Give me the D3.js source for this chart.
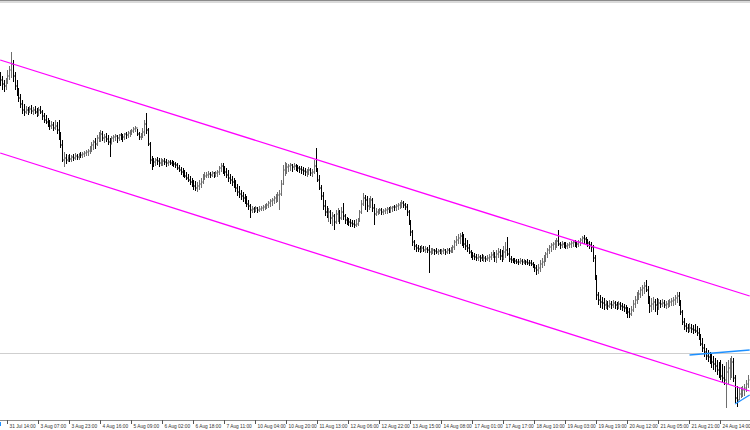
<!DOCTYPE html>
<html>
<head>
<meta charset="utf-8">
<script src="https://cdn.jsdelivr.net/npm/d3@7"></script>
<style>
body { margin: 0; background: #fff; }
svg { display: block; }
</style>
</head>
<body>
<script>
// hourly bars, 31 Jul - 24 Aug
var timeLabels = ["31 Jul 14:00", "3 Aug 07:00", "3 Aug 23:00", "4 Aug 16:00", "5 Aug 09:00", "6 Aug 02:00",
  "6 Aug 18:00", "7 Aug 11:00", "10 Aug 04:00", "10 Aug 20:00", "11 Aug 13:00", "12 Aug 06:00",
  "12 Aug 22:00", "13 Aug 15:00", "14 Aug 08:00", "17 Aug 01:00", "17 Aug 17:00", "18 Aug 10:00",
  "19 Aug 03:00", "19 Aug 19:00", "20 Aug 12:00", "21 Aug 05:00", "21 Aug 21:00", "24 Aug 14:00"];

var highs = [
  928,924,920,922,930,934,948,940,928,920, 912,906,900,896,894,893,894,895,893,894,
  892,893,894,890,887,885,882,880,879,878, 880,878,880,868,860,848,846,845,846,845,
  846,847,846,847,848,848,849,850,851,854, 858,860,862,865,868,870,869,866,867,865,
  862,864,865,866,865,866,867,866,867,868, 869,870,871,873,874,871,868,867,872,880,
  887,872,858,844,842,842,843,842,842,841, 842,841,840,840,840,839,838,837,835,833,
  832,830,828,826,824,822,820,819,818,820, 822,826,828,828,829,828,829,828,829,830,
  834,837,837,834,832,830,826,824,822,820, 816,814,810,808,806,804,800,796,794,793,
  794,793,794,794,795,796,797,799,801,802, 804,806,808,810,820,835,838,837,836,837,
  836,837,836,835,834,834,833,832,831,833, 832,831,840,852,832,825,815,808,800,794,
  792,790,788,786,790,792,790,793,797,786, 783,782,781,780,780,781,782,790,800,807,
  805,804,802,804,802,796,792,791,792,792, 791,792,793,793,794,794,795,796,797,798,
  800,799,797,796,790,780,770,760,756,755, 754,755,754,754,753,755,752,752,751,752,
  751,751,751,752,751,752,752,753,755,760, 764,766,767,768,766,762,760,756,750,748,
  747,746,746,745,746,745,744,745,746,748, 750,748,750,752,751,750,754,758,763,752,
  744,742,742,741,741,742,741,741,740,741, 740,740,738,736,735,736,740,742,745,748,
  752,755,757,758,760,762,770,758,759,758, 758,757,758,759,760,760,759,760,762,764,
  765,763,761,759,758,755,745,725,708,705, 703,702,700,699,700,699,700,699,698,699,
  698,697,696,695,693,692,694,700,704,708, 710,713,715,718,720,714,704,702,703,701,
  702,701,700,701,700,699,700,701,702,703, 705,708,708,700,690,682,677,676,677,676,
  675,676,674,672,666,662,656,652,650,648, 646,644,642,640,638,640,636,634,638,640,
  642,644,642,625,614,612,613,614,616,620,625
];
var lows = [
  914,910,908,910,916,920,922,918,910,904, 898,892,886,884,886,885,887,886,885,886,
  883,884,886,880,877,876,873,870,871,869, 870,866,860,852,838,833,836,838,838,838,
  839,840,840,840,842,842,843,844,844,846, 848,850,851,854,858,858,859,857,858,855,
  843,856,858,859,857,859,860,858,860,861, 862,863,865,867,868,864,860,860,862,864,
  866,854,836,830,833,834,835,833,834,834, 835,833,834,835,834,833,832,830,828,825,
  823,822,820,818,815,813,810,809,808,810, 812,816,820,822,822,822,823,822,823,823,
  825,828,826,824,822,818,816,814,812,808, 804,802,800,798,796,793,790,782,787,787,
  788,787,788,789,789,790,791,792,793,794, 796,797,798,790,804,815,824,826,828,829,
  828,830,829,828,827,826,825,824,823,825, 824,823,826,828,818,810,800,790,784,782,
  778,776,774,770,776,778,776,780,780,776, 775,774,773,773,772,773,774,778,786,794,
  790,788,790,792,788,775,784,785,786,785, 785,786,786,787,787,788,789,789,790,791,
  792,792,790,784,775,764,754,750,748,748, 747,748,748,747,747,727,745,746,745,746,
  745,746,745,746,745,746,746,747,747,750, 754,756,756,754,752,750,748,746,742,740,
  740,739,739,738,739,738,738,739,738,740, 742,738,737,742,740,738,740,742,744,738,
  737,737,736,736,735,736,735,736,735,735, 734,734,732,728,725,726,728,732,734,738,
  742,746,748,750,750,752,754,751,752,752, 751,751,752,752,753,753,752,753,754,756,
  756,755,753,751,748,738,720,700,695,692, 691,690,691,690,692,691,692,691,690,691,
  690,689,688,686,682,682,684,688,692,696, 700,702,704,706,708,696,687,688,690,688,
  685,690,692,693,692,691,692,693,694,694, 695,697,694,685,675,670,668,667,668,667,
  666,667,664,660,654,648,643,640,638,636, 632,630,628,625,622,620,618,615,592,616,
  620,622,618,597,593,600,602,603,604,608,612
];
var closes = [
  920,916,914,918,924,930,936,924,914,908, 902,896,890,888,890,888,891,889,890,888,
  886,890,888,884,880,878,876,874,875,872, 874,870,864,855,840,842,840,842,841,843,
  842,844,843,845,845,846,847,848,849,852, 855,858,856,862,864,866,862,863,861,858,
  856,862,863,864,862,865,864,863,866,865, 867,868,869,871,872,866,863,865,868,876,
  870,856,840,838,838,840,839,837,838,839, 838,837,838,837,836,836,835,832,830,828,
  826,824,822,820,818,816,814,812,814,816, 818,822,824,825,826,825,827,826,827,828,
  832,834,830,828,825,822,820,818,814,812, 808,806,804,802,800,796,794,790,791,790,
  792,790,791,792,793,794,795,797,799,800, 802,804,805,806,816,830,832,833,834,835,
  833,834,833,832,831,830,829,828,829,830, 827,828,834,830,820,812,804,794,788,786,
  788,782,784,778,786,788,782,788,784,780, 779,778,777,776,775,776,780,788,796,802,
  800,794,798,800,792,786,788,789,790,788, 789,790,791,791,792,793,793,794,795,796,
  797,795,793,788,778,768,758,754,752,751, 750,752,750,751,750,748,749,750,749,748,
  749,748,749,750,748,750,749,751,753,758, 760,762,764,760,756,754,752,748,745,744,
  743,742,743,742,741,742,741,742,743,745, 746,743,746,748,744,742,748,750,746,741,
  740,740,739,738,738,739,738,739,738,737, 737,736,734,732,730,732,736,738,742,746,
  750,753,755,756,758,759,756,755,756,755, 754,755,756,757,758,757,756,758,760,762,
  761,759,757,755,753,742,724,705,700,698, 697,695,696,694,696,695,697,695,694,696,
  694,693,692,690,688,686,690,696,700,704, 706,710,712,714,710,700,694,696,698,695,
  694,697,696,697,695,696,697,698,699,700, 702,704,698,688,678,674,672,670,672,671,
  670,669,667,662,656,652,648,644,643,640, 638,636,634,630,628,624,622,620,628,632,
  634,638,622,602,600,606,608,610,612,616,620
];

// trend lines: [bar index, price]
var upperChannel = [[0, 940], [411, 704]];
var lowerChannel = [[0, 847], [411, 609]];
var blueLines = [[[378, 645], [411, 650]], [[403, 596], [411, 605]]];
var levelPrice = 647;

var width = 750, height = 430, axisY = 420;
var n = Math.min(highs.length, lows.length, closes.length);
var barStep = 31 / 17;

var svg = d3.select('body').append('svg').attr('width', width).attr('height', height);

var x = d3.scaleLinear().domain([0, n - 1]).range([0.2, 0.2 + (n - 1) * barStep]);
var y = d3.scaleLinear().domain([580, 1000]).range([axisY, 0]);

// window border at the top
svg.append('rect').attr('x', 0).attr('y', 0).attr('width', width).attr('height', 1).attr('fill', '#8a8a8a');
svg.append('rect').attr('x', 0).attr('y', 1.5).attr('width', width).attr('height', 1).attr('fill', '#b5b5b5');

// horizontal level
svg.append('line')
  .attr('x1', 0).attr('x2', width)
  .attr('y1', Math.round(y(levelPrice)) + 0.5).attr('y2', Math.round(y(levelPrice)) + 0.5)
  .attr('stroke', '#cfcfcf').attr('stroke-width', 1);

// bars
var bars = d3.range(n).map(function(i) {
  return { i: i, h: highs[i], l: lows[i], c: closes[i], o: i ? closes[i - 1] : closes[i] };
});

svg.append('g').selectAll('path').data(bars).join('path')
  .attr('d', function(d) {
    var px = Math.round(x(d.i)) + 0.5;
    return 'M' + px + ',' + y(d.h) + 'V' + y(d.l) +
      'M' + (px - 1) + ',' + y(d.o) + 'H' + px +
      'M' + px + ',' + y(d.c) + 'H' + (px + 1);
  })
  .attr('fill', 'none')
  .attr('stroke', function(d) { return d.c > d.o ? '#6e6e6e' : '#000'; })
  .attr('stroke-width', 1);

// channel lines
var line = d3.line().x(function(d) { return x(d[0]); }).y(function(d) { return y(d[1]); });

svg.selectAll('.channel').data([upperChannel, lowerChannel]).join('path')
  .attr('class', 'channel')
  .attr('d', line)
  .attr('fill', 'none')
  .attr('stroke', '#ff00ff')
  .attr('stroke-width', 1.3);

svg.selectAll('.blue').data(blueLines).join('path')
  .attr('class', 'blue')
  .attr('d', line)
  .attr('fill', 'none')
  .attr('stroke', '#1e90ff')
  .attr('stroke-width', 1.3);

// time axis
svg.append('rect').attr('x', 0).attr('y', axisY).attr('width', width).attr('height', height - axisY).attr('fill', '#fff');
svg.append('line')
  .attr('x1', 0).attr('x2', width).attr('y1', axisY + 0.5).attr('y2', axisY + 0.5)
  .attr('stroke', '#8c8c8c');

var ticks = svg.append('g').selectAll('g').data(timeLabels).join('g')
  .attr('transform', function(d, k) { return 'translate(' + (Math.round(x(4 + 17 * k)) + 0.5) + ',' + axisY + ')'; });

ticks.append('line')
  .attr('y1', 0).attr('y2', 4)
  .attr('stroke', '#555');

ticks.append('text')
  .attr('x', 2).attr('y', 7.6)
  .attr('font-family', 'Liberation Sans, Arial, sans-serif')
  .attr('font-size', 4.8)
  .attr('fill', '#333')
  .text(function(d) { return d; });

svg.append('line')
  .attr('x1', 0.5).attr('x2', 0.5).attr('y1', axisY + 2).attr('y2', axisY + 6)
  .attr('stroke', '#1e90ff');
</script>
</body>
</html>
